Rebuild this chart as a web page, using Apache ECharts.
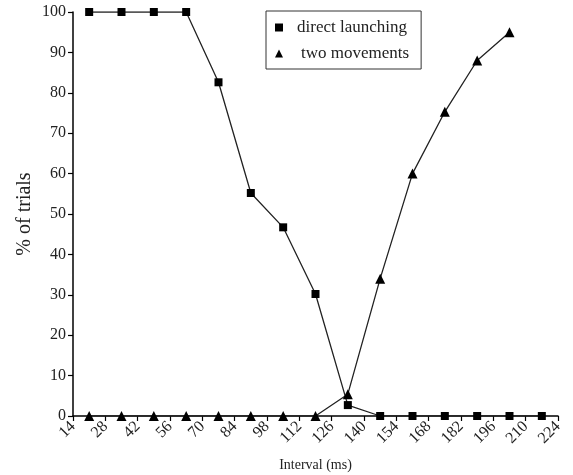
<!DOCTYPE html>
<html>
<head>
<meta charset="utf-8">
<script src="https://cdn.jsdelivr.net/npm/echarts@6/dist/echarts.min.js"></script>
<style>html,body{margin:0;padding:0;background:#fff;}#c{width:573px;height:475px;}</style>
</head>
<body>
<div id="c"></div>
<script>
var intervals = [21, 35, 49, 63, 77, 91, 105, 119, 133, 147, 161, 175, 189, 203, 217];
var directLaunching = [100, 100, 100, 100, 82.6, 55.2, 46.7, 30.2, 2.7, 0, 0, 0, 0, 0, 0];
var twoMovements = [0, 0, 0, 0, 0, 0, 0, 0, 5.4, 34, 60, 75.3, 88, 95];
var xTicks = [14, 28, 42, 56, 70, 84, 98, 112, 126, 140, 154, 168, 182, 196, 210, 224];
var yTicks = [0, 10, 20, 30, 40, 50, 60, 70, 80, 90, 100];

function pairs(xs, ys) { return ys.map(function (v, i) { return [xs[i], v]; }); }

var FONT = 'Liberation Serif';
var chart = echarts.init(document.getElementById('c'), null, { renderer: 'canvas' });
chart.setOption({
  backgroundColor: '#fff',
  animation: false,
  textStyle: { fontFamily: FONT, color: '#222' },
  grid: { left: 73, right: 15, top: 12, bottom: 59, containLabel: false, outerBoundsMode: 'none' },
  legend: {
    orient: 'vertical',
    left: 266, top: 11,
    padding: [8, 12, 7, 9],
    borderColor: '#333', borderWidth: 1,
    itemWidth: 8, itemHeight: 8, itemGap: 9,
    textStyle: { fontFamily: FONT, fontSize: 17, color: '#222',
      rich: { a: { fontFamily: FONT, fontSize: 17, color: '#222', padding: [0, 0, 0, 9] },
              b: { fontFamily: FONT, fontSize: 17, color: '#222', padding: [0, 0, 0, 13] } } },
    formatter: function (n) { return n === 'direct launching' ? '{a|' + n + '}' : '{b|' + n + '}'; },
    data: [
      { name: 'direct launching', icon: 'rect', itemStyle: { color: '#000' } },
      { name: 'two movements', icon: 'triangle', itemStyle: { color: '#000' } }
    ]
  },
  xAxis: {
    type: 'value', min: xTicks[0], max: xTicks[xTicks.length - 1], interval: 14,
    name: 'Interval (ms)', nameLocation: 'middle', nameGap: 42, nameMoveOverlap: false,
    nameTextStyle: { fontFamily: FONT, fontSize: 14, color: '#222' },
    axisLine: { lineStyle: { color: '#000', width: 1.5 } },
    axisTick: { inside: false, length: 5, lineStyle: { color: '#000', width: 1.2 } },
    axisLabel: { rotate: 45, fontFamily: FONT, fontSize: 16, color: '#222', margin: 8 },
    splitLine: { show: false }
  },
  yAxis: {
    type: 'value', min: yTicks[0], max: yTicks[yTicks.length - 1], interval: 10,
    name: '% of trials', nameLocation: 'middle', nameGap: 38, nameRotate: 90, nameMoveOverlap: false,
    nameTextStyle: { fontFamily: FONT, fontSize: 20, color: '#222' },
    axisLine: { show: true, lineStyle: { color: '#000', width: 1.5 } },
    axisTick: { show: true, inside: false, length: 5, lineStyle: { color: '#000', width: 1.2 } },
    axisLabel: { fontFamily: FONT, fontSize: 16, color: '#222', margin: 7 },
    splitLine: { show: false }
  },
  series: [
    {
      name: 'direct launching', type: 'line', data: pairs(intervals, directLaunching),
      symbol: 'rect', symbolSize: 8, showAllSymbol: true,
      lineStyle: { color: '#222', width: 1.3 }, itemStyle: { color: '#000' }
    },
    {
      name: 'two movements', type: 'line', data: pairs(intervals, twoMovements),
      symbol: 'triangle', symbolSize: 10, showAllSymbol: true,
      lineStyle: { color: '#222', width: 1.3 }, itemStyle: { color: '#000' }
    }
  ]
});
</script>
</body>
</html>
